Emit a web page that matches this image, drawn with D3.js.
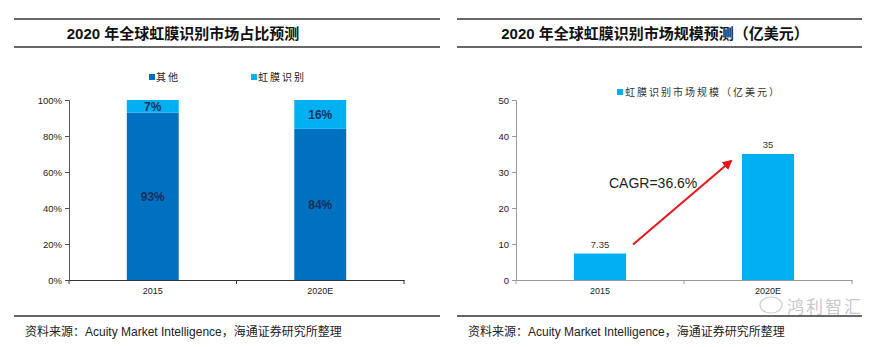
<!DOCTYPE html>
<html><head><meta charset="utf-8">
<script src="https://cdn.jsdelivr.net/npm/d3@7"></script>
<style>
body{margin:0;background:#fff;}
svg{display:block;font-family:"Liberation Sans",Arial,sans-serif;}
</style></head><body>
<svg id="c" width="881" height="347"></svg>
<script>
// ---- data ----
const years = ["2015", "2020E"];
const shareOther = [93, 84];
const shareIris = [7, 16];
const shareTicks = [0, 20, 40, 60, 80, 100];
const marketSize = [7.35, 35];
const marketTicks = [0, 10, 20, 30, 40, 50];
const leftTitle = "2020 年全球虹膜识别市场占比预测";
const rightTitle = "2020 年全球虹膜识别市场规模预测（亿美元）";
const legendLeft = ["其他", "虹膜识别"];
const legendRight = "虹膜识别市场规模（亿美元）";
const cagrLabel = "CAGR=36.6%";
const sourceText = "资料来源：Acuity Market Intelligence，海通证券研究所整理";

const dark = "#0070C0", light = "#00B0F0";
const cjk = "'Noto Sans CJK SC',sans-serif";
const svg = d3.select("#c");

function frame(x0, x1, title, cx) {
  svg.append("line").attr("x1", x0).attr("x2", x1).attr("y1", 19).attr("y2", 19).attr("stroke", "#333").attr("stroke-width", 1.5);
  svg.append("line").attr("x1", x0).attr("x2", x1).attr("y1", 47).attr("y2", 47).attr("stroke", "#333").attr("stroke-width", 1.5);
  svg.append("text").attr("x", cx).attr("y", 39).attr("text-anchor", "middle")
    .attr("font-family", "'Liberation Sans'," + cjk).attr("font-weight", "bold").attr("font-size", 15).attr("fill", "#111").text(title);
  svg.append("line").attr("x1", x0).attr("x2", x1).attr("y1", 316).attr("y2", 316).attr("stroke", "#333").attr("stroke-width", 1.5);
}
frame(14, 440, leftTitle, 183);
frame(457, 862, rightTitle, 655);

// ---- left chart ----
{
  const x = d3.scaleBand().domain(years).range([69, 404]).paddingInner(0.69).paddingOuter(0.345);
  const y = d3.scaleLinear().domain([0, 100]).range([280, 100]);
  const g = svg.append("g");
  years.forEach((yr, i) => {
    g.append("rect").attr("x", x(yr)).attr("width", x.bandwidth())
      .attr("y", y(shareOther[i])).attr("height", y(0) - y(shareOther[i])).attr("fill", dark);
    g.append("rect").attr("x", x(yr)).attr("width", x.bandwidth())
      .attr("y", y(shareOther[i] + shareIris[i])).attr("height", y(0) - y(shareIris[i])).attr("fill", light);
    g.append("text").attr("x", x(yr) + x.bandwidth() / 2).attr("y", y(shareOther[i] / 2) + 5)
      .attr("text-anchor", "middle").attr("font-size", 12).attr("font-weight", "bold").attr("fill", "#17305a").text(shareOther[i] + "%");
    g.append("text").attr("x", x(yr) + x.bandwidth() / 2).attr("y", y(shareOther[i] + shareIris[i] / 2) + 5)
      .attr("text-anchor", "middle").attr("font-size", 12).attr("font-weight", "bold").attr("fill", "#17305a").text(shareIris[i] + "%");
  });
  const ya = g.append("g").attr("transform", "translate(69,0)")
    .call(d3.axisLeft(y).tickValues(shareTicks).tickFormat(d => d + "%").tickSize(4));
  ya.select(".domain").attr("stroke", "#555");
  ya.selectAll("line").attr("stroke", "#555");
  ya.selectAll("text").attr("font-size", 9.5).attr("fill", "#222");
  const xa = g.append("g").attr("transform", "translate(0,280)")
    .call(d3.axisBottom(x).tickSize(0).tickPadding(8));
  xa.select(".domain").attr("stroke", "#333").attr("stroke-width", 1.2);
  xa.selectAll("text").attr("font-size", 9).attr("fill", "#222");
  [0, 1, 2].forEach(k => {
    const px = 69 + k * (404 - 69) / 2;
    g.append("line").attr("x1", px).attr("x2", px).attr("y1", 280).attr("y2", 284).attr("stroke", "#333");
  });
  // legend
  const leg = [[149, legendLeft[0], dark], [251, legendLeft[1], light]];
  leg.forEach(([lx, t, c]) => {
    g.append("rect").attr("x", lx).attr("y", 74).attr("width", 6).attr("height", 6).attr("fill", c);
    g.append("text").attr("x", lx + 7).attr("y", 81).attr("font-family", cjk).attr("font-size", 10)
      .attr("letter-spacing", 2).attr("fill", "#222").text(t);
  });
}

// ---- right chart ----
{
  const x = d3.scaleBand().domain(years).range([516, 852]).paddingInner(0.69).paddingOuter(0.345);
  const y = d3.scaleLinear().domain([0, 50]).range([280, 100]);
  const g = svg.append("g");
  years.forEach((yr, i) => {
    g.append("rect").attr("x", x(yr)).attr("width", x.bandwidth())
      .attr("y", y(marketSize[i])).attr("height", y(0) - y(marketSize[i])).attr("fill", light);
    g.append("text").attr("x", x(yr) + x.bandwidth() / 2).attr("y", y(marketSize[i]) - 6)
      .attr("text-anchor", "middle").attr("font-size", 9.5).attr("fill", "#333").text(marketSize[i]);
  });
  const ya = g.append("g").attr("transform", "translate(516,0)")
    .call(d3.axisLeft(y).tickValues(marketTicks).tickSize(4));
  ya.select(".domain").attr("stroke", "#999");
  ya.selectAll("line").attr("stroke", "#999");
  ya.selectAll("text").attr("font-size", 9.5).attr("fill", "#222");
  const xa = g.append("g").attr("transform", "translate(0,280)")
    .call(d3.axisBottom(x).tickSize(0).tickPadding(8));
  xa.select(".domain").attr("stroke", "#999");
  xa.selectAll("text").attr("font-size", 9).attr("fill", "#222");
  [0, 1, 2].forEach(k => {
    const px = 516 + k * (852 - 516) / 2;
    g.append("line").attr("x1", px).attr("x2", px).attr("y1", 280).attr("y2", 284).attr("stroke", "#999");
  });
  // legend
  g.append("rect").attr("x", 617).attr("y", 89).attr("width", 6).attr("height", 6).attr("fill", light);
  g.append("text").attr("x", 625).attr("y", 96).attr("font-family", cjk).attr("font-size", 10).attr("fill", "#333")
    .attr("letter-spacing", 2).text(legendRight);
  // CAGR arrow
  const defs = svg.append("defs");
  defs.append("marker").attr("id", "ah").attr("viewBox", "0 0 10 10").attr("refX", 8).attr("refY", 5)
    .attr("markerWidth", 5).attr("markerHeight", 5).attr("orient", "auto")
    .append("path").attr("d", "M0,0L10,5L0,10z").attr("fill", "#e8141b");
  const bx0 = x(years[0]) + x.bandwidth() + 7, bx1 = x(years[1]) - 11;
  g.append("line").attr("x1", bx0).attr("y1", y(marketSize[0]) - 9).attr("x2", bx1).attr("y2", y(marketSize[1]) + 7)
    .attr("stroke", "#e8141b").attr("stroke-width", 2).attr("marker-end", "url(#ah)");
  g.append("text").attr("x", 609).attr("y", 188).attr("font-size", 14).attr("fill", "#222").text(cagrLabel);
}

// ---- sources & watermark ----
[[25, 336], [468, 336]].forEach(([sx, sy]) => {
  svg.append("text").attr("x", sx).attr("y", sy).attr("font-size", 12).attr("fill", "#222")
    .attr("font-family", "'Liberation Sans'," + cjk).text(sourceText);
});
svg.append("text").attr("x", 787).attr("y", 313).attr("font-family", cjk).attr("font-size", 17)
  .attr("fill", "#c8c8c8").attr("letter-spacing", 2).text("鸿利智汇");
svg.append("ellipse").attr("cx", 771).attr("cy", 305).attr("rx", 11).attr("ry", 8)
  .attr("fill", "none").attr("stroke", "#cfcfcf").attr("stroke-width", 1.2);
</script>
</body></html>
